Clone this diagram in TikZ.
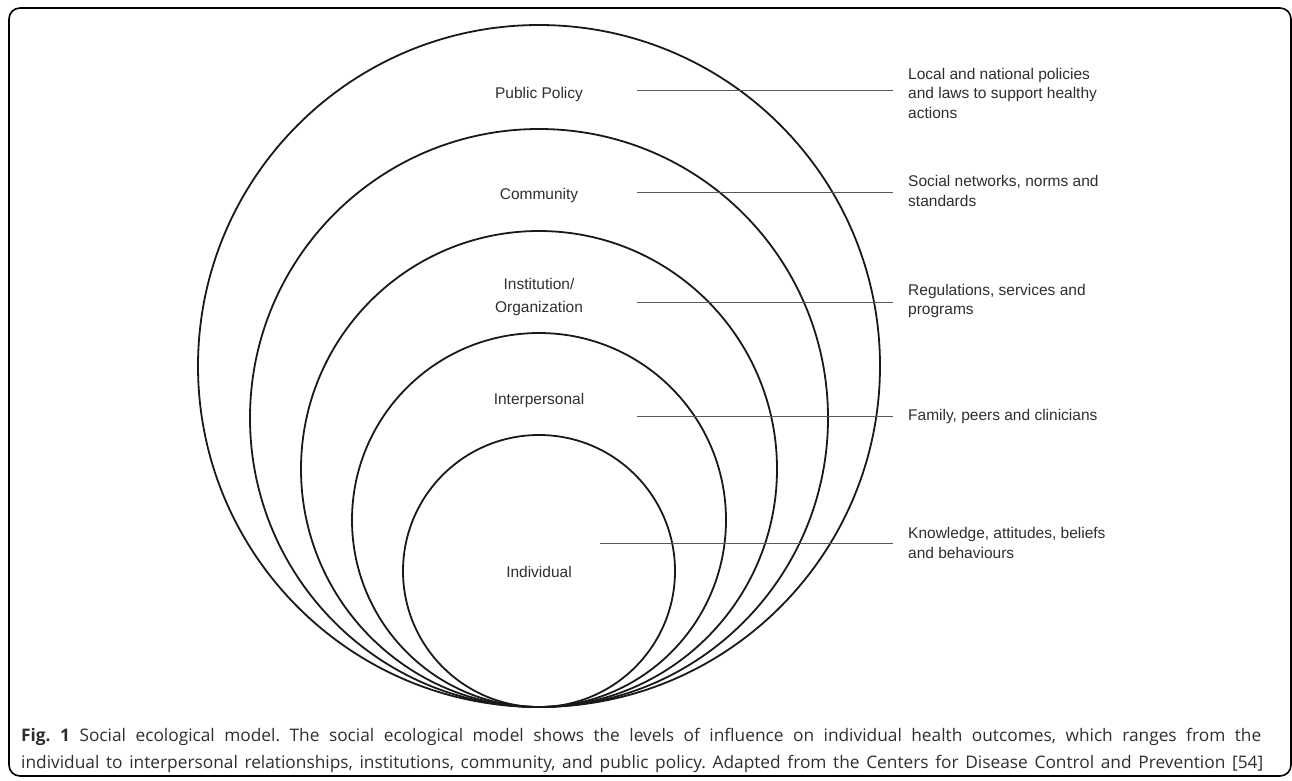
\documentclass[tikz,border=0pt]{standalone}
\usepackage{fontspec}
\setmainfont{Liberation Sans}
\newfontfamily\capfont{Open Sans}
\frenchspacing
\begin{document}
\begin{tikzpicture}[x=1pt,y=-1pt,
  ring/.style={draw=black!90,line width=1.8pt},
  lvl/.style={font=\fontsize{15.5}{22.5}\selectfont,text=black!82,align=center,inner sep=0},
  desc/.style={font=\fontsize{15.5}{19.5}\selectfont,text=black!82,align=left,anchor=west,inner xsep=15pt,inner ysep=0},
  lead/.style={draw=black!65,line width=1pt},
  captext/.style={anchor=base west,inner sep=0,font=\capfont\fontsize{17.3}{27}\selectfont,text=black!82}]
\useasboundingbox (0,0) rectangle (1292,780);
\draw[line width=1.6pt,rounded corners=11pt] (9,8) rectangle (1291,776);
\foreach \r in {341,289,238,187,136}
  \draw[ring] (539,{707-\r}) circle[radius=\r pt];
% level labels
\node[lvl] (l1) at (539,94) {Public Policy};
\node[lvl] (l2) at (539,195) {Community};
\node[lvl] (l3) at (539,297) {Institution/\\Organization};
\node[lvl] (l4) at (539,400) {Interpersonal};
\node[lvl] (l5) at (539,572) {Individual};
% descriptions
\node[desc] (r1) at (893,93) {Local and national policies\\and laws to support healthy\\actions};
\node[desc] (r2) at (893,191) {Social networks, norms and\\standards};
\node[desc] (r3) at (893,301) {Regulations, services and\\programs};
\node[desc] (r4) at (893,416) {Family, peers and clinicians};
\node[desc] (r5) at (893,543) {Knowledge, attitudes, beliefs\\and behaviours};
% leader lines
\coordinate (s1) at (637,90);
\coordinate (s2) at (637,192);
\coordinate (s3) at (637,302);
\coordinate (s4) at (637,416);
\coordinate (s5) at (600,543);
\foreach \i in {1,...,5} \draw[lead] (s\i) -- (s\i -| r\i.west);
% caption
\node[captext] (cap1) at (21,741) {\makebox[1240pt][s]{\textbf{Fig.~1} Social ecological model. The social ecological model shows the levels of influence on individual health outcomes, which ranges from the}};
\node[captext] (cap2) at (21,768) {\makebox[1242pt][s]{individual to interpersonal relationships, institutions, community, and public policy. Adapted from the Centers for Disease Control and Prevention [54]}};
\end{tikzpicture}
\end{document}
